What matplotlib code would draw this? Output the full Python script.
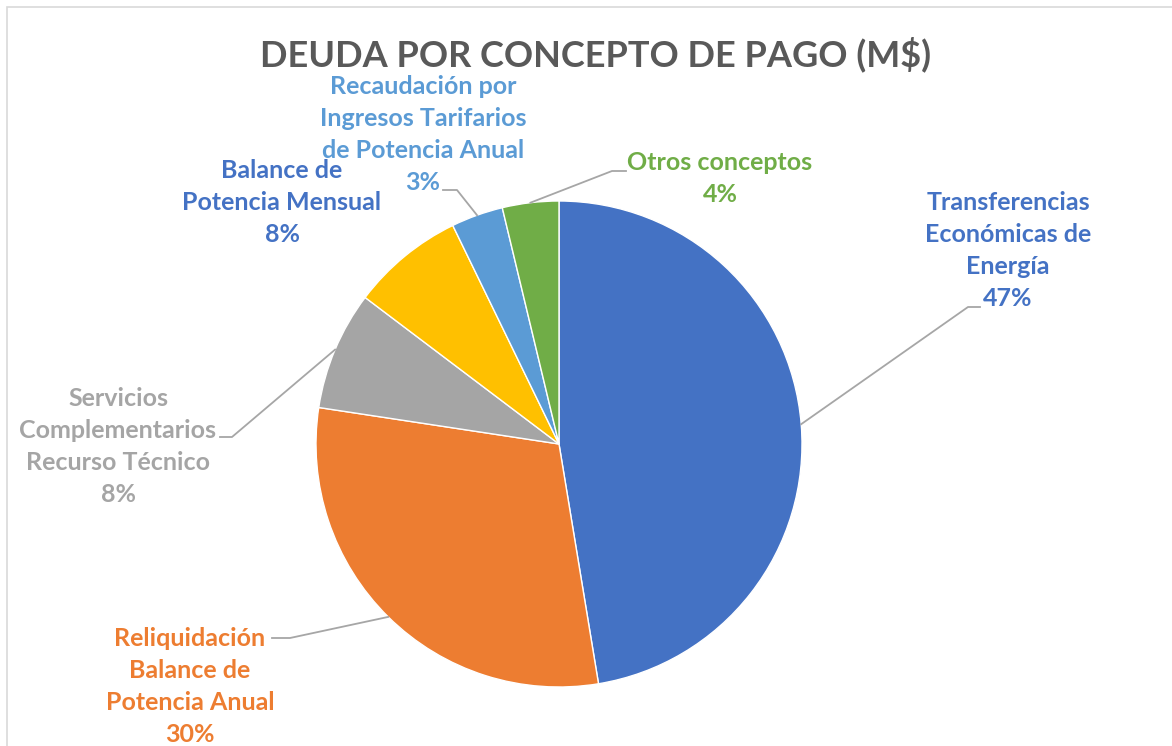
import numpy as np
import matplotlib
matplotlib.use("Agg")
import matplotlib.pyplot as plt
from matplotlib.patches import Rectangle

# Datos (M$, participación estimada del gráfico)
conceptos = [
    "Transferencias\nEconómicas de\nEnergía",
    "Reliquidación\nBalance de\nPotencia Anual",
    "Servicios\nComplementarios\nRecurso Técnico",
    "Balance de\nPotencia Mensual",
    "Recaudación por\nIngresos Tarifarios\nde Potencia Anual",
    "Otros conceptos",
]
valores = [47.4, 30.0, 7.9, 7.5, 3.45, 3.75]
colores = ["#4472C4", "#ED7D31", "#A5A5A5", "#FFC000", "#5B9BD5", "#70AD47"]
colores_texto = ["#4472C4", "#ED7D31", "#A5A5A5", "#4472C4", "#5B9BD5", "#70AD47"]

W, H = 1172, 746
fig = plt.figure(figsize=(W / 100, H / 100), dpi=100)
ax = fig.add_axes([0, 0, 1, 1])

# centro y radio del pie en pixeles
cx, cy, r = 559, H - 444, 243
wedges, _ = ax.pie(valores, colors=colores, startangle=90, counterclock=False,
                   center=(cx, cy), radius=r,
                   wedgeprops=dict(edgecolor="white", linewidth=1))
ax.set_xlim(0, W)
ax.set_ylim(0, H)
ax.set_aspect("equal")
ax.axis("off")

# borde del área del gráfico
ax.add_patch(Rectangle((7, -20), W + 40, H - 7 + 20, fill=False,
                       edgecolor="#D9D9D9", linewidth=1.2, clip_on=False))

ax.text(596, H - 54, "DEUDA POR CONCEPTO DE PAGO (M$)", ha="center", va="center",
        fontsize=26, fontweight="bold", color="#595959", family="Lato")

# posición de etiquetas (centro del bloque) y codo de la línea guía, en pixeles
pos_texto = [(1008, 250), (190, 686), (118, 447), (282, 202), (423, 135), (720, 178)]
codos = [(968, 307, 980), (290, 638, 272), (232, 437, 220), None, (457, 190, 443), (612, 171, 626)]
interlineado = 32

for w, nombre, color, (tx, ty), codo in zip(wedges, conceptos, colores_texto, pos_texto, codos):
    frac = (w.theta2 - w.theta1) / 360.0
    lineas = nombre.split("\n") + [f"{round(frac * 100)}%"]
    n = len(lineas)
    # cada línea por separado, como en las etiquetas de Excel
    for i, linea in enumerate(lineas):
        ly = ty + (i - (n - 1) / 2) * interlineado
        ax.text(tx, H - ly, linea, ha="center", va="center", color=color,
                fontsize=18, fontweight="bold", family="Lato")
    if codo is not None:
        ang = np.deg2rad((w.theta1 + w.theta2) / 2)
        x0 = cx + r * np.cos(ang)
        y0 = cy + r * np.sin(ang)
        ex, ey, fx = codo
        ax.plot([x0, ex, fx], [y0, H - ey, H - ey], color="#A6A6A6", linewidth=1.3)

fig.savefig("out.png", dpi=100)
